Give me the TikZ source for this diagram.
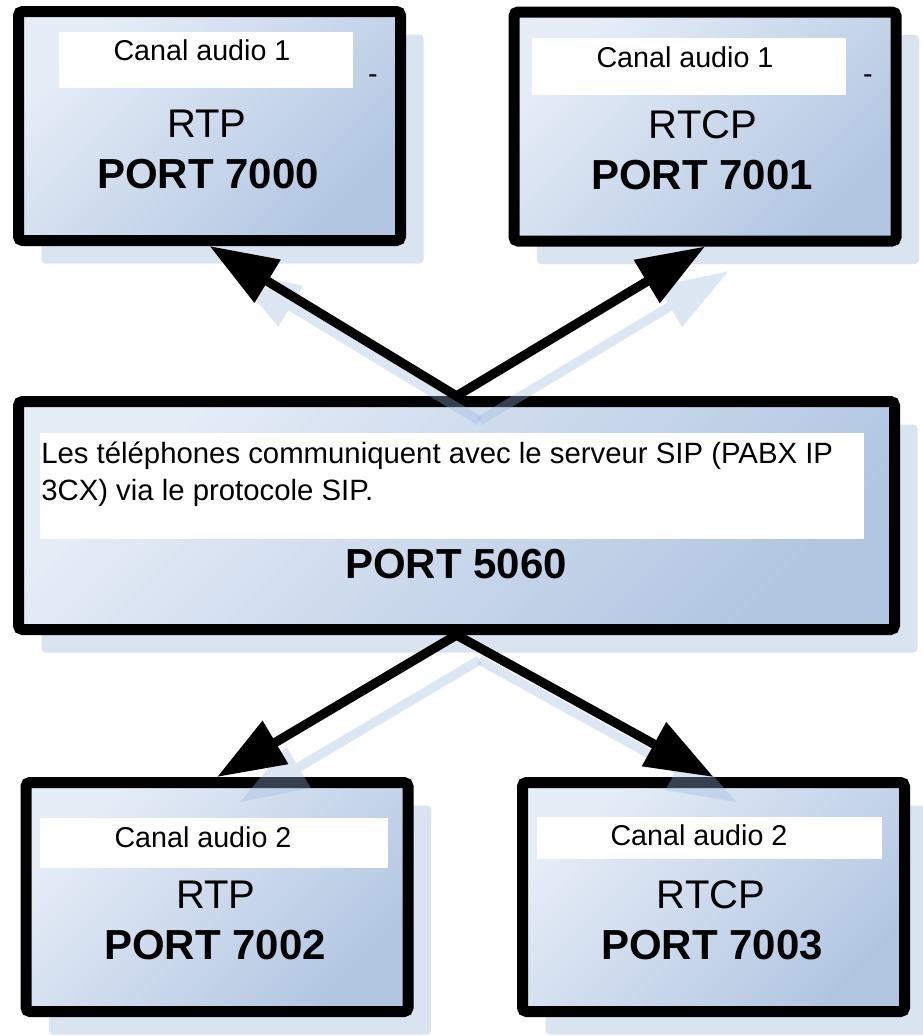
\documentclass[tikz,border=0pt]{standalone}
\usepackage{fontspec}
\setmainfont{Liberation Sans}
\usepackage{xcolor}
\usetikzlibrary{arrows.meta}
\usetikzlibrary{shadows}
\definecolor{boxlight}{HTML}{E6EDF7}
\definecolor{boxdark}{HTML}{B2C6E2}
\definecolor{shadowblue}{HTML}{DAE4F0}
\definecolor{ghostblue}{HTML}{9DB7DE}
\tikzset{portbox/.style={draw=black, line width=8.25pt, rounded corners=3pt,
           top color=boxlight, bottom color=boxdark, shading angle=45,
           drop shadow={shadow xshift=17.25pt, shadow yshift=-17.25pt,
                        fill=shadowblue, opacity=1}},
         band/.style={fill=white, inner sep=0pt},
         chan/.style={font=\fontsize{21.5}{26}\selectfont, inner sep=0pt},
         proto/.style={font=\fontsize{30}{36}\selectfont, inner sep=0pt},
         portnum/.style={font=\fontsize{31.5}{38}\selectfont\bfseries, inner sep=0pt},
         note/.style={font=\fontsize{22}{28}\selectfont, inner sep=0pt, anchor=base west},
         link/.style={line width=7pt, -{Triangle[length=51pt,width=36pt]}},
         ghostlink/.style={line width=7pt, draw=ghostblue, opacity=0.35,
           -{Triangle[length=51pt,width=36pt,line width=0pt]}}}

\begin{document}
\begin{tikzpicture}[x=0.75pt, y=-0.75pt]
\useasboundingbox (0,0) rectangle (923,1036);
% boxes
\node[portbox, minimum width=286.5pt, minimum height=171.75pt] (rtpa) at (209.5,126) {};
\node[portbox, minimum width=286.5pt, minimum height=171.75pt] (rtcpa) at (705,126.5) {};
\node[portbox, minimum width=657pt, minimum height=171pt] (sip) at (456.5,515.5) {};
\node[portbox, minimum width=286.5pt, minimum height=171.75pt] (rtpb) at (217,897) {};
\node[portbox, minimum width=286.5pt, minimum height=171.75pt] (rtcpb) at (713.5,897) {};
% white bands
\node[band, minimum width=220.5pt, minimum height=42pt] (rtpaband) at (206,60) {};
\node[band, minimum width=235.5pt, minimum height=42.75pt] (rtcpaband) at (689,66.5) {};
\node[band, minimum width=618pt, minimum height=79.5pt] (sipband) at (452,486) {};
\node[band, minimum width=261pt, minimum height=37.5pt] (rtpbband) at (214,843) {};
\node[band, minimum width=258.75pt, minimum height=31.5pt] (rtcpbband) at (709.5,838) {};
% texts
\node[chan] (rtpachan) at (202,50.5) {Canal audio 1};
\node[chan] (rtpadash) at (373,79) {-};
\node[proto] (rtpaproto) at (207,124) {RTP};
\node[portnum] (rtpaport) at (208,174.5) {PORT 7000};
\node[chan] (rtcpachan) at (685,57.5) {Canal audio 1};
\node[chan] (rtcpadash) at (868,79) {-};
\node[proto] (rtcpaproto) at (703,125) {RTCP};
\node[portnum] (rtcpaport) at (702,175) {PORT 7001};
\node[note] (sipnotea) at (41,463) {Les téléphones communiquent avec le serveur SIP (PABX IP};
\node[note] (sipnoteb) at (41,500) {3CX) via le protocole SIP.};
\node[portnum] (sipport) at (456,564) {PORT 5060};
\node[chan] (rtpbchan) at (203,837.5) {Canal audio 2};
\node[proto] (rtpbproto) at (216,895) {RTP};
\node[portnum] (rtpbport) at (215,945) {PORT 7002};
\node[chan] (rtcpbchan) at (699,835.5) {Canal audio 2};
\node[proto] (rtcpbproto) at (711,895) {RTCP};
\node[portnum] (rtcpbport) at (712,945) {PORT 7003};
% shadow of the arrows
\foreach \dest/\from in {rtpa.south/sip.north, rtcpa.south/sip.north, rtpb.north/sip.south, rtcpb.north/sip.south}
  \draw[ghostlink] ([shift={(23,25)}]\from) -- ([shift={(23,25)}]\dest);
% arrows
\draw[link] (sip.north) -- (rtpa.south);
\draw[link] (sip.north) -- (rtcpa.south);
\draw[link] (sip.south) -- (rtpb.north);
\draw[link] (sip.south) -- (rtcpb.north);
\end{tikzpicture}
\end{document}
